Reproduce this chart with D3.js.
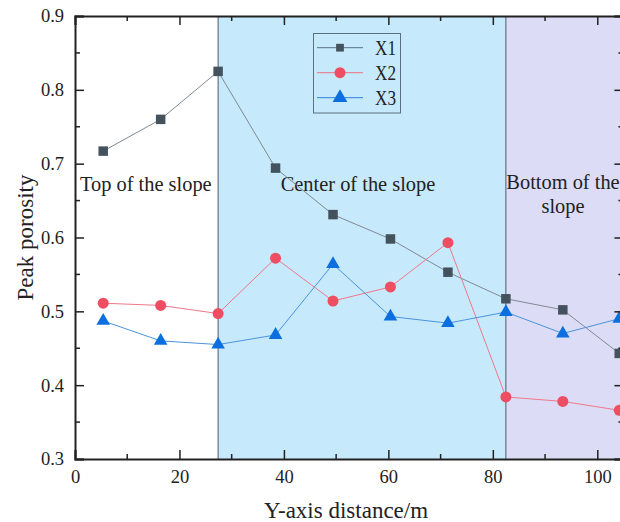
<!DOCTYPE html>
<html>
<head>
<meta charset="utf-8">
<script src="https://cdn.jsdelivr.net/npm/d3@7"></script>
<style>
  html, body { margin: 0; padding: 0; background: #fff; }
  svg { display: block; }
  text { font-family: "Liberation Serif", "DejaVu Serif", serif; fill: #222; }
</style>
</head>
<body>
<svg id="chart" width="620" height="522"></svg>
<script>
// ---------- data ----------
const xValues = [5.4, 16.4, 27.4, 38.4, 49.4, 60.4, 71.4, 82.5, 93.4, 104.2];
const seriesNames = ["X1", "X2", "X3"];
const x1Values = [0.717, 0.760, 0.825, 0.694, 0.631, 0.598, 0.553, 0.517, 0.502, 0.443];
const x2Values = [0.511, 0.508, 0.497, 0.572, 0.514, 0.533, 0.593, 0.384, 0.378, 0.366];
const x3Values = [0.487, 0.460, 0.455, 0.468, 0.564, 0.493, 0.484, 0.499, 0.470, 0.490];
const regionNames = ["Top of the slope", "Center of the slope", "Bottom of the slope"];
const regionBounds = [[0, 27.4], [27.4, 82.5], [82.5, 105]];
const xTickValues = [0, 20, 40, 60, 80, 100];
const yTickValues = [0.3, 0.4, 0.5, 0.6, 0.7, 0.8, 0.9];
const xTitle = "Y-axis distance/m";
const yTitle = "Peak porosity";

// ---------- layout ----------
const L = 75, R = 623.4, T = 16, B = 459;
const svg = d3.select("#chart");
const x = d3.scaleLinear().domain([0, 105]).range([L, R]);
const y = d3.scaleLinear().domain([0.3, 0.9]).range([B, T]);

const axisColor = "#222";
const regionFill = [null, "#c6e9fb", "#dcdcf6"];

// region bands
regionBounds.forEach((b, i) => {
  if (!regionFill[i]) return;
  svg.append("rect")
    .attr("x", x(b[0])).attr("y", T)
    .attr("width", x(b[1]) - x(b[0])).attr("height", B - T)
    .attr("fill", regionFill[i]);
});
// band boundary lines
[regionBounds[1][0], regionBounds[2][0]].forEach(v => {
  svg.append("line")
    .attr("x1", x(v)).attr("x2", x(v)).attr("y1", T).attr("y2", B)
    .attr("stroke", "#4d5b6a").attr("stroke-width", 1);
});

// region labels
svg.append("text").attr("x", x(regionBounds[0][0]) + 5).attr("y", 191)
  .attr("font-size", 20.4).text(regionNames[0]);
svg.append("text").attr("x", 358).attr("y", 191).attr("text-anchor", "middle")
  .attr("font-size", 20.4).text(regionNames[1]);
const botLbl = svg.append("text").attr("x", 563).attr("text-anchor", "middle").attr("font-size", 20.4);
botLbl.append("tspan").attr("x", 563).attr("y", 189).text("Bottom of the");
botLbl.append("tspan").attr("x", 563).attr("y", 213).text("slope");

// ---------- series ----------
const series = [
  { name: seriesNames[0], values: x1Values, line: "#7f8a94", mark: "#44525e", sym: d3.symbolSquare, size: 90 },
  { name: seriesNames[1], values: x2Values, line: "#f0788a", mark: "#ee4d62", sym: d3.symbolCircle, size: 95 },
  { name: seriesNames[2], values: x3Values, line: "#4a93dc", mark: "#0b6fe0", sym: d3.symbolTriangle, size: 80 }
];

const lineGen = d3.line().x((d, i) => x(xValues[i])).y(d => y(d));

series.forEach(s => {
  svg.append("path").datum(s.values)
    .attr("d", lineGen).attr("fill", "none")
    .attr("stroke", s.line).attr("stroke-width", 1);
});
series.forEach(s => {
  svg.selectAll(null).data(s.values).enter().append("path")
    .attr("transform", (d, i) => `translate(${x(xValues[i])},${y(d)})`)
    .attr("d", d3.symbol().type(s.sym).size(s.size))
    .attr("fill", s.mark);
});

// ---------- axes ----------
const xMinor = d3.range(0, 106, 10).filter(v => v % 20 !== 0);
const yMinor = d3.range(0.35, 0.9, 0.1);

// bottom axis
const gB = svg.append("g").attr("transform", `translate(0,${B})`);
gB.call(d3.axisBottom(x).tickValues(xTickValues).tickSize(-9).tickPadding(11).tickFormat(d3.format("d")));
gB.selectAll(null).data(xMinor).enter().append("line")
  .attr("x1", d => x(d)).attr("x2", d => x(d)).attr("y1", 0).attr("y2", -5)
  .attr("stroke", axisColor).attr("stroke-width", 1.5);

// top axis
const gT = svg.append("g").attr("transform", `translate(0,${T})`);
gT.call(d3.axisTop(x).tickValues(xTickValues).tickSize(-9).tickFormat(""));
gT.selectAll(null).data(xMinor).enter().append("line")
  .attr("x1", d => x(d)).attr("x2", d => x(d)).attr("y1", 0).attr("y2", 5)
  .attr("stroke", axisColor).attr("stroke-width", 1.5);

// left axis
const gL = svg.append("g").attr("transform", `translate(${L},0)`);
gL.call(d3.axisLeft(y).tickValues(yTickValues).tickSize(-9).tickPadding(11).tickFormat(d3.format(".1f")));
gL.selectAll(null).data(yMinor).enter().append("line")
  .attr("x1", 0).attr("x2", 5).attr("y1", d => y(d)).attr("y2", d => y(d))
  .attr("stroke", axisColor).attr("stroke-width", 1.5);

// right axis
const gR = svg.append("g").attr("transform", `translate(${R},0)`);
gR.call(d3.axisRight(y).tickValues(yTickValues).tickSize(-9).tickFormat(""));
gR.selectAll(null).data(yMinor).enter().append("line")
  .attr("x1", 0).attr("x2", -5).attr("y1", d => y(d)).attr("y2", d => y(d))
  .attr("stroke", axisColor).attr("stroke-width", 1.5);

[gB, gT, gL, gR].forEach(g => {
  g.select(".domain").attr("stroke", axisColor).attr("stroke-width", 2);
  g.selectAll(".tick line").attr("stroke", axisColor).attr("stroke-width", 1.5);
  g.selectAll(".tick text").attr("font-family", "Liberation Serif, serif").attr("font-size", 18.5).attr("fill", "#222");
});

// axis titles
svg.append("text").attr("x", 346).attr("y", 518).attr("text-anchor", "middle")
  .attr("font-size", 23).text(xTitle);
svg.append("text").attr("transform", `translate(33,${(T + B) / 2}) rotate(-90)`)
  .attr("text-anchor", "middle").attr("font-size", 23).text(yTitle);

// ---------- legend ----------
const lg = svg.append("g");
lg.append("rect").attr("x", 313.5).attr("y", 33.5).attr("width", 87).attr("height", 79.5)
  .attr("fill", "none").attr("stroke", "#5b7080").attr("stroke-width", 1);
const legLine = ["#5b7282", "#f07080", "#2a80e0"];
series.forEach((s, i) => {
  const cy = 47.7 + i * 25;
  lg.append("line").attr("x1", 317).attr("x2", 363).attr("y1", cy).attr("y2", cy)
    .attr("stroke", legLine[i]).attr("stroke-width", 1);
  lg.append("path").attr("transform", `translate(340,${cy})`)
    .attr("d", d3.symbol().type(s.sym).size(s.sym === d3.symbolSquare ? 60 : 95))
    .attr("fill", s.mark);
  lg.append("text").attr("transform", `translate(375,${cy + 7.5}) scale(0.8,1)`)
    .attr("font-size", 21.5).attr("fill", "#333").text(s.name);
});
</script>
</body>
</html>
